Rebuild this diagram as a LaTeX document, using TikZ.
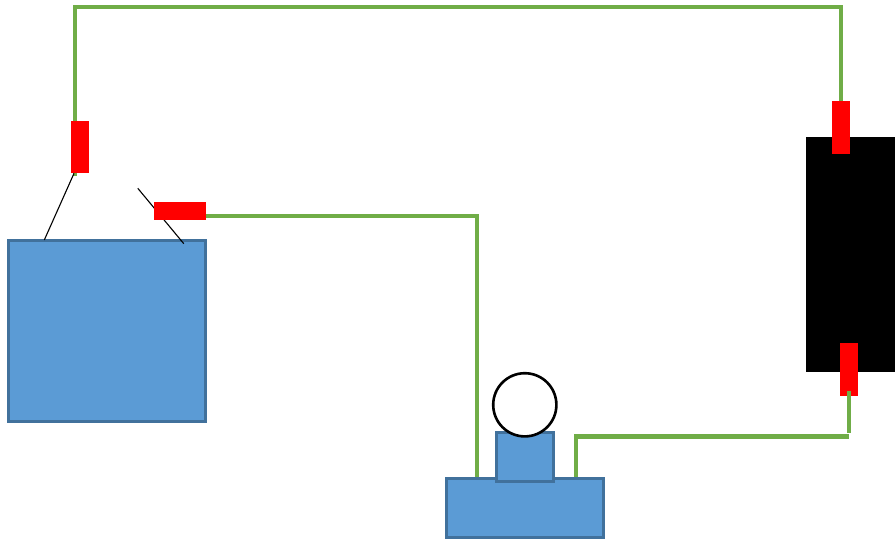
\documentclass[tikz,border=0pt]{standalone}
\usetikzlibrary{backgrounds}
\definecolor{pipegreen}{HTML}{70AD47}
\definecolor{bluefill}{HTML}{5B9BD5}
\definecolor{blueedge}{HTML}{41719C}
\tikzset{
  box/.style={rectangle,inner sep=0pt,outer sep=0pt,anchor=north west},
  bluebox/.style={box,draw=blueedge,fill=bluefill,line width=2.8pt},
  clip block/.style={box,fill=red},
  pipe/.style={draw=pipegreen,line width=4.2pt,line cap=butt,line join=miter},
  wire/.style={draw=black,line width=1.1pt}
}
\newcommand{\sizedbox}[6]{\node[#1,minimum width=#5pt-#3pt,minimum height=#6pt-#4pt] (#2) at (#3,#4) {};}
\begin{document}
\begin{tikzpicture}[x=1pt,y=-1pt]
\useasboundingbox (0,0) rectangle (895,539);
% bodies
\sizedbox{bluebox}{tank}{8.6}{240.6}{205.5}{421.8}
\sizedbox{box,fill=black}{battery}{806.2}{137}{895}{372.3}
\sizedbox{bluebox}{base}{446.3}{478.2}{603.5}{537.3}
\sizedbox{bluebox}{riser}{496.3}{432.8}{553.5}{481.2}
\node[circle,draw=black,fill=white,line width=2.6pt,inner sep=0pt,outer sep=0pt,minimum size=63.2pt] (gauge) at (524.8,404.8) {};
% free wire ends
\coordinate (wireA) at (44.3,240);
\coordinate (wireB) at (137.8,188.3);
\coordinate (wireC) at (183.8,243.7);
\draw[wire] (wireB) -- (wireC);
% clips
\sizedbox{clip block}{clipA}{70.6}{120.8}{89}{173.4}
\sizedbox{clip block}{clipB}{154}{202.4}{206}{219.6}
\sizedbox{clip block}{clipC}{832}{101}{850}{154}
\sizedbox{clip block}{clipD}{839.6}{343.4}{857.7}{396}
\draw[wire] (74,173.4) -- (wireA);
% pipes
\coordinate (topL) at (75.2,6.6);
\coordinate (topR) at (841,6.6);
\coordinate (clipAend) at (75.2,176);
\coordinate (midR) at (477.3,216);
\coordinate (lowL) at (576.2,436.4);
\coordinate (lowR) at (848.6,436.4);
\coordinate (clipDend) at (848.6,391);
\coordinate (clipDstop) at (848.6,433);
\begin{scope}[on background layer]
  \draw[pipe] (clipAend) -- (topL) -- (topR) -- (clipC.north -| topR);
  \draw[pipe] (clipB.east |- midR) -- (midR) -- (midR |- base.north);
  \draw[pipe] (lowL |- base.north) -- (lowL) -- (lowR);
\end{scope}
\draw[pipe] (clipDend) -- (clipDstop);
\end{tikzpicture}
\end{document}
